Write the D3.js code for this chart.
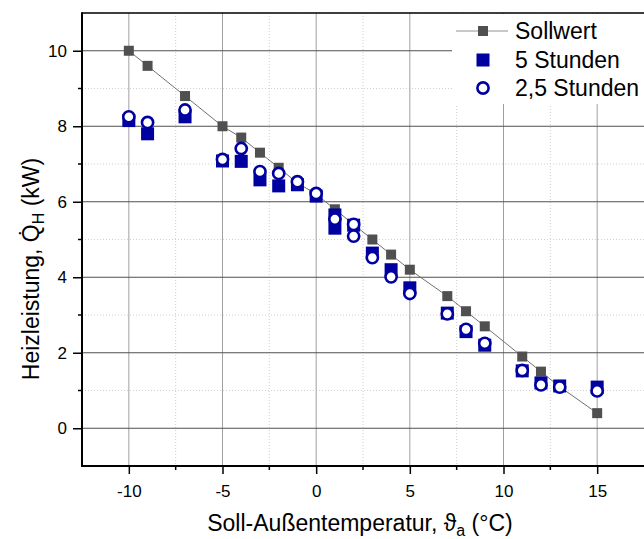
<!DOCTYPE html>
<html>
<head>
<meta charset="utf-8">
<script src="https://cdn.jsdelivr.net/npm/d3@7/dist/d3.min.js"></script>
<style>
  html, body { margin: 0; padding: 0; background: #fff; }
  svg { display: block; font-family: "Liberation Sans", Arial, sans-serif; }
</style>
</head>
<body>
<svg id="chart" width="644" height="539"></svg>
<script>
// Setpoint heating power (Sollwert)
const sollX = [-10, -9, -7, -5, -4, -3, -2, -1, 0, 1, 2, 3, 4, 5, 7, 8, 9, 11, 12, 13, 15];
const sollY = [10.0, 9.6, 8.8, 8.0, 7.7, 7.3, 6.9, 6.5, 6.2, 5.8, 5.4, 5.0, 4.6, 4.2, 3.5, 3.1, 2.7, 1.9, 1.5, 1.1, 0.4];

// Measured heating power, 5-hour averaging
const h5X = [-10, -9, -7, -5, -4, -3, -2, -1, 0, 1, 1, 2, 3, 4, 5, 7, 8, 9, 11, 12, 13, 15];
const h5Y = [8.15, 7.8, 8.25, 7.08, 7.07, 6.58, 6.42, 6.45, 6.15, 5.65, 5.3, 5.38, 4.64, 4.2, 3.72, 3.05, 2.56, 2.2, 1.52, 1.2, 1.12, 1.09];

// Measured heating power, 2.5-hour averaging
const h25X = [-10, -9, -7, -5, -4, -3, -2, -1, 0, 1, 2, 2, 3, 4, 5, 7, 8, 9, 11, 12, 13, 15];
const h25Y = [8.25, 8.1, 8.43, 7.12, 7.41, 6.8, 6.75, 6.53, 6.22, 5.54, 5.4, 5.09, 4.52, 4.01, 3.57, 3.03, 2.62, 2.25, 1.53, 1.15, 1.09, 0.99];

// Axis ticks
const xMajor = [-10, -5, 0, 5, 10, 15];
const xMinor = [-12.5, -7.5, -2.5, 2.5, 7.5, 12.5];
const yMajor = [0, 2, 4, 6, 8, 10];
const yMinor = [-1, 1, 3, 5, 7, 9, 11];

const legendLabels = ["Sollwert", "5 Stunden", "2,5 Stunden"];

const GREY = "#505050";
const BLUE = "#0000a0";
const FONT = "Liberation Sans, Arial, sans-serif";

const svg = d3.select("#chart");
const pLeft = 82, pRight = 644, pTop = 13, pBottom = 466;

const x = d3.scaleLinear().domain([-12.5, 17.5]).range([pLeft, pRight]);
const y = d3.scaleLinear().domain([-1, 11]).range([pBottom, pTop]);

// Grid
const grid = svg.append("g");
grid.selectAll(".vmin").data(xMinor).enter().append("line")
  .attr("x1", d => x(d)).attr("x2", d => x(d)).attr("y1", pTop).attr("y2", pBottom)
  .attr("stroke", "#d0d0d0").attr("stroke-width", 1).attr("stroke-dasharray", "1,2");
grid.selectAll(".hmin").data(yMinor).enter().append("line")
  .attr("x1", pLeft).attr("x2", pRight).attr("y1", d => y(d)).attr("y2", d => y(d))
  .attr("stroke", "#d0d0d0").attr("stroke-width", 1).attr("stroke-dasharray", "1,2");
grid.selectAll(".vmaj").data(xMajor).enter().append("line")
  .attr("x1", d => x(d)).attr("x2", d => x(d)).attr("y1", pTop).attr("y2", pBottom)
  .attr("stroke", "#a0a0a0").attr("stroke-width", 1);
grid.selectAll(".hmaj").data(yMajor).enter().append("line")
  .attr("x1", pLeft).attr("x2", pRight).attr("y1", d => y(d)).attr("y2", d => y(d))
  .attr("stroke", "#505050").attr("stroke-width", 1);

// Legend background covers grid
svg.append("rect").attr("x", 452).attr("y", pTop + 1).attr("width", 192).attr("height", 90)
  .attr("fill", "#fff");

// Top frame line
svg.append("line").attr("x1", pLeft).attr("x2", pRight).attr("y1", pTop).attr("y2", pTop)
  .attr("stroke", "#000").attr("stroke-width", 1.5);

// Axes
const xAxis = d3.axisBottom(x).tickValues(xMajor).tickSize(8).tickPadding(11)
  .tickFormat(d => d < 0 ? "-" + Math.abs(d) : String(d));
const gx = svg.append("g").attr("transform", `translate(0,${pBottom})`).call(xAxis);
gx.select(".domain").remove();
gx.selectAll(".tick line").attr("stroke", "#000").attr("stroke-width", 1.5);
gx.selectAll("text").attr("font-size", 17).attr("fill", "#000").attr("font-family", FONT);
svg.append("g").selectAll("line").data(xMinor.filter(d => d > -12.5)).enter().append("line")
  .attr("x1", d => x(d)).attr("x2", d => x(d)).attr("y1", pBottom).attr("y2", pBottom + 4)
  .attr("stroke", "#000").attr("stroke-width", 1.5);

const yAxis = d3.axisLeft(y).tickValues(yMajor).tickSize(9).tickPadding(6);
const gy = svg.append("g").attr("transform", `translate(${pLeft},0)`).call(yAxis);
gy.select(".domain").remove();
gy.selectAll(".tick line").attr("stroke", "#000").attr("stroke-width", 1.5);
gy.selectAll("text").attr("font-size", 17).attr("fill", "#000").attr("font-family", FONT);
svg.append("g").selectAll("line").data(yMinor.filter(d => d > -1 && d < 11)).enter().append("line")
  .attr("x1", pLeft - 4).attr("x2", pLeft).attr("y1", d => y(d)).attr("y2", d => y(d))
  .attr("stroke", "#000").attr("stroke-width", 1.5);

// Axis lines
svg.append("line").attr("x1", pLeft).attr("x2", pRight).attr("y1", pBottom).attr("y2", pBottom)
  .attr("stroke", "#000").attr("stroke-width", 2);
svg.append("line").attr("x1", pLeft).attr("x2", pLeft).attr("y1", pTop - 0.75).attr("y2", pBottom + 1)
  .attr("stroke", "#000").attr("stroke-width", 2);

// Axis titles
const xt = svg.append("text").attr("x", 360).attr("y", 531).attr("text-anchor", "middle")
  .attr("font-size", 23).attr("fill", "#000");
xt.append("tspan").text("Soll-Außentemperatur, ϑ");
xt.append("tspan").attr("font-size", 16).attr("dy", 5).text("a");
xt.append("tspan").attr("dy", -5).text(" (°C)");

const yt = svg.append("text").attr("transform", "translate(39,269) rotate(-90)")
  .attr("text-anchor", "middle").attr("font-size", 23).attr("fill", "#000");
yt.append("tspan").text("Heizleistung, Q\u0307");
yt.append("tspan").attr("font-size", 16).attr("dy", 5).text("H");
yt.append("tspan").attr("dy", -5).text(" (kW)");

// Data
const sollData = sollX.map((d, i) => [d, sollY[i]]);
const h5Data = h5X.map((d, i) => [d, h5Y[i]]);
const h25Data = h25X.map((d, i) => [d, h25Y[i]]);

const plot = svg.append("g");
plot.append("path").datum(sollData)
  .attr("d", d3.line().x(d => x(d[0])).y(d => y(d[1])))
  .attr("fill", "none").attr("stroke", "#707070").attr("stroke-width", 1);
const sq = 10;
plot.selectAll(".soll").data(sollData).enter().append("rect")
  .attr("x", d => x(d[0]) - sq / 2).attr("y", d => y(d[1]) - sq / 2)
  .attr("width", sq).attr("height", sq).attr("fill", GREY);

const bq = 13;
plot.selectAll(".h5").data(h5Data).enter().append("rect")
  .attr("x", d => x(d[0]) - bq / 2).attr("y", d => y(d[1]) - bq / 2)
  .attr("width", bq).attr("height", bq).attr("fill", BLUE);

plot.selectAll(".h25").data(h25Data).enter().append("circle")
  .attr("cx", d => x(d[0])).attr("cy", d => y(d[1])).attr("r", 5.6)
  .attr("fill", "#fff").attr("stroke", BLUE).attr("stroke-width", 2.6);

// Legend
const lg = svg.append("g").attr("font-size", 23).attr("fill", "#000");
const rowY = [31, 60, 88];
lg.append("line").attr("x1", 456).attr("x2", 508).attr("y1", rowY[0]).attr("y2", rowY[0])
  .attr("stroke", "#909090").attr("stroke-width", 1);
lg.append("rect").attr("x", 483 - sq / 2).attr("y", rowY[0] - sq / 2).attr("width", sq).attr("height", sq)
  .attr("fill", GREY);
lg.append("rect").attr("x", 483 - bq / 2).attr("y", rowY[1] - bq / 2).attr("width", bq).attr("height", bq)
  .attr("fill", BLUE);
lg.append("circle").attr("cx", 483).attr("cy", rowY[2]).attr("r", 5.6)
  .attr("fill", "#fff").attr("stroke", BLUE).attr("stroke-width", 2.6);
lg.selectAll("text").data(legendLabels).enter().append("text")
  .attr("x", 515).attr("y", (d, i) => rowY[i] + 8).text(d => d);
</script>
</body>
</html>
